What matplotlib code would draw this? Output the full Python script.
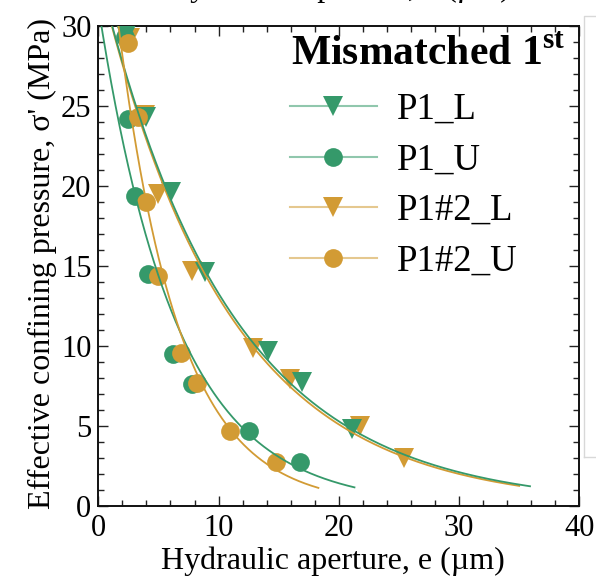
import numpy as np
import matplotlib
matplotlib.use("Agg")
import matplotlib.pyplot as plt
from matplotlib.lines import Line2D

plt.rcParams['font.family'] = ['Liberation Serif', 'DejaVu Serif']
plt.rcParams['mathtext.fontset'] = 'custom'
plt.rcParams['mathtext.rm'] = 'Liberation Serif'
plt.rcParams['mathtext.bf'] = 'Liberation Serif:bold'

# ---- data ----
p1_L_x = [2.3, 4.0, 6.05, 8.9, 14.1, 16.9, 21.1]
p1_L_y = [29.4, 24.3, 19.6, 14.6, 9.7, 7.75, 4.8]
p12_L_x = [2.6, 3.9, 5.0, 7.8, 12.9, 15.9, 21.75, 25.4]
p12_L_y = [29.2, 24.4, 19.5, 14.7, 9.85, 7.9, 5.0, 2.96]
p1_U_x = [2.2, 2.5, 3.05, 4.15, 6.25, 7.75, 12.5, 16.8]
p1_U_y = [29.3, 24.2, 19.35, 14.5, 9.5, 7.6, 4.7, 2.75]
p12_U_x = [2.5, 3.3, 4.0, 4.95, 6.9, 8.2, 10.95, 14.8]
p12_U_y = [28.9, 24.3, 19.0, 14.35, 9.55, 7.65, 4.7, 2.75]

# exponential fit curves sigma = a * exp(-b * e)
fit_a = {'P1_L': 33.35, 'P1_U': 31.2, 'P1#2_L': 33.3, 'P1#2_U': 41.8}
fit_b = {'P1_L': 0.0922, 'P1_U': 0.155, 'P1#2_L': 0.094, 'P1#2_U': 0.198}
fit_end = {'P1_L': 35.9, 'P1_U': 21.3, 'P1#2_L': 35.0, 'P1#2_U': 18.3}

series_labels = ['P1_L', 'P1_U', 'P1#2_L', 'P1#2_U']
xticks = [0, 10, 20, 30, 40]
yticks = [0, 5, 10, 15, 20, 25, 30]

GREEN = '#35996a'
ORANGE = '#d29b34'

fig = plt.figure(figsize=(5.96, 5.84), dpi=100)
ax = fig.add_axes([0.165, 0.134, 0.807, 0.822])

series = [
    ('P1#2_L', p12_L_x, p12_L_y, ORANGE, 'v'),
    ('P1_L', p1_L_x, p1_L_y, GREEN, 'v'),
    ('P1_U', p1_U_x, p1_U_y, GREEN, 'o'),
    ('P1#2_U', p12_U_x, p12_U_y, ORANGE, 'o'),
]
for name, xs, ys, col, mk in series:
    ms = 13.5 if mk == 'o' else 14
    ax.plot(xs, ys, linestyle='none', marker=mk, ms=ms, color=col,
            markeredgewidth=0, zorder=3)
    xf = np.linspace(0, fit_end[name], 300)
    ax.plot(xf, fit_a[name] * np.exp(-fit_b[name] * xf), color=col, lw=1.3,
            zorder=4)

ax.set_xlim(0, 40)
ax.set_ylim(0, 30)
ax.set_xticks(xticks)
ax.set_yticks(yticks)
ax.set_xticks(np.arange(0, 41, 2), minor=True)
ax.set_yticks(np.arange(0, 31, 1), minor=True)
ax.tick_params(which='both', direction='in', top=True, right=True,
               labelsize=22, width=1.0, color='#222222')
ax.tick_params(which='major', length=7)
ax.tick_params(which='minor', length=4)
ax.tick_params(axis='y', pad=5)
ax.tick_params(axis='x', pad=6)
for s in ax.spines.values():
    s.set_linewidth(1.4)
    s.set_color('#111111')

ax.set_xlabel('Hydraulic aperture, e (\u00b5m)', fontsize=23, labelpad=2)
ax.xaxis.set_label_coords(0.4875, -0.085)
ax.set_ylabel("Effective confining pressure, \u03c3' (MPa)", fontsize=23)
ax.yaxis.set_label_coords(-0.085, 0.505)

# legend title drawn as text
fig.text(291 / 596, 1 - 65 / 584, 'Mismatched 1$^{\\mathbf{st}}$',
         fontsize=30, fontweight='bold', ha='left', va='baseline')

gl = (0.21, 0.60, 0.42, 0.55)
ol = (0.82, 0.61, 0.20, 0.55)
handles = [
    Line2D([], [], color=gl, lw=1.5, marker='v', ms=14,
           markerfacecolor=GREEN, markeredgewidth=0),
    Line2D([], [], color=gl, lw=1.5, marker='o', ms=13.5,
           markerfacecolor=GREEN, markeredgewidth=0),
    Line2D([], [], color=ol, lw=1.5, marker='v', ms=14,
           markerfacecolor=ORANGE, markeredgewidth=0),
    Line2D([], [], color=ol, lw=1.5, marker='o', ms=13.5,
           markerfacecolor=ORANGE, markeredgewidth=0),
]
leg = ax.legend(handles, series_labels, loc='upper left',
                bbox_to_anchor=(0.3985, 0.8613), frameon=False, fontsize=26.5,
                handlelength=2.36, handletextpad=0.54,
                labelspacing=0.44, borderpad=0.0, borderaxespad=0.0)

# fragments of neighbouring panels cut by the crop
fig.text(0.568, 1.0 + 4 / 584, 'Hydraulic aperture, e (\u00b5m)', fontsize=23,
         ha='center', va='baseline')
fig.add_artist(Line2D([583.5 / 596, 583.5 / 596, 1.0],
                      [1 - 457 / 584, 1 - 16 / 584, 1 - 16 / 584],
                      color='#d8d8d8', lw=1.0, transform=fig.transFigure))
fig.add_artist(Line2D([583.5 / 596, 1.0], [1 - 457 / 584, 1 - 457 / 584],
                      color='#d8d8d8', lw=1.0, transform=fig.transFigure))

fig.savefig('out.png', dpi=100)
